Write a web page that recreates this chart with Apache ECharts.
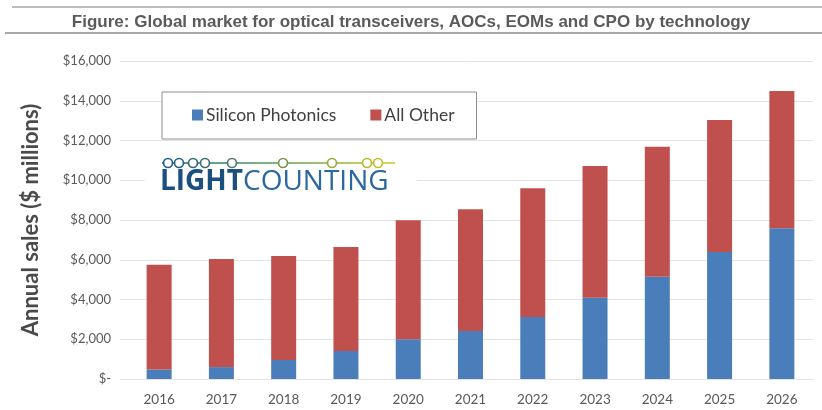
<!DOCTYPE html>
<html>
<head>
<meta charset="utf-8">
<script src="https://cdn.jsdelivr.net/npm/echarts@6/dist/echarts.min.js"></script>
<style>
  html, body { margin: 0; padding: 0; background: #fff; }
  #chart { width: 822px; height: 410px; }
</style>
</head>
<body>
<div id="chart"></div>
<script>
// values ($ millions)
const years = ["2016", "2017", "2018", "2019", "2020", "2021", "2022", "2023", "2024", "2025", "2026"];
const siliconPhotonics = [480, 600, 960, 1410, 2000, 2420, 3120, 4090, 5150, 6390, 7580];
const allOther = [5270, 5440, 5230, 5230, 5990, 6120, 6480, 6630, 6540, 6640, 6910];
const seriesNames = ["Silicon Photonics", "All Other"];

const grey = "#595959";
const gridColor = "#e3e3e3";

// logo: circle positions along the line
const logoDots = [168, 179, 193, 205, 232, 283, 332, 367, 378];
const logoY = 163;
function dotColor(x) {
  const t = (x - 162) / (395 - 162);
  const a = [26, 92, 140], b = [205, 200, 30];
  return "rgb(" + a.map((v, i) => Math.round(v + (b[i] - v) * t)).join(",") + ")";
}
const logoGradient = new echarts.graphic.LinearGradient(0, 0, 1, 0, [
  { offset: 0, color: "#1a5c8c" },
  { offset: 0.5, color: "#5a9e5a" },
  { offset: 1, color: "#cdc81e" }
]);

const chart = echarts.init(document.getElementById("chart"));

chart.setOption({
  animation: false,
  title: {
    text: "Figure: Global market for optical transceivers, AOCs, EOMs and CPO by technology",
    left: "center",
    top: 9,
    textStyle: {
      fontFamily: "Liberation Sans Narrow, Liberation Sans, Arial",
      fontSize: 17,
      fontWeight: "bold",
      color: "#5a5a5a"
    }
  },
  legend: {
    left: 162,
    top: 92,
    padding: [14, 22, 15, 30],
    itemGap: 34,
    itemWidth: 11,
    itemHeight: 11,
    icon: "rect",
    borderColor: "#8c8c8c",
    borderWidth: 1,
    backgroundColor: "#fff",
    data: seriesNames,
    textStyle: { fontFamily: "Lato, Open Sans", fontSize: 17.5, color: "#404040", padding: [0, 0, 0, -2] }
  },
  grid: { left: 128, right: 9, top: 61, bottom: 31 },
  xAxis: {
    type: "category",
    data: years,
    axisLine: { lineStyle: { color: gridColor } },
    axisTick: { show: false },
    axisLabel: { color: grey, fontFamily: "Lato, Open Sans", fontSize: 13.5, margin: 14 }
  },
  yAxis: {
    type: "value",
    name: "Annual sales ($ millions)",
    nameLocation: "middle",
    nameGap: 86,
    nameTextStyle: { fontFamily: "Lato, Open Sans", fontSize: 22, fontWeight: "bold", color: "#4a4a4a" },
    min: 0,
    max: 16000,
    interval: 2000,
    axisLine: { show: false },
    axisTick: { show: true, length: 8, lineStyle: { color: gridColor } },
    splitLine: { lineStyle: { color: gridColor } },
    axisLabel: {
      color: grey,
      fontFamily: "Lato, Open Sans",
      fontSize: 13,
      margin: 17,
      formatter: v => v === 0 ? "$-" : "$" + v.toLocaleString("en-US")
    }
  },
  series: [
    {
      name: seriesNames[0],
      type: "bar",
      stack: "total",
      barWidth: 25,
      itemStyle: { color: "#4a7ebb" },
      data: siliconPhotonics
    },
    {
      name: seriesNames[1],
      type: "bar",
      stack: "total",
      barWidth: 25,
      itemStyle: { color: "#c0504d" },
      data: allOther
    }
  ],
  graphic: [
    // title rules
    { type: "line", shape: { x1: 12, y1: 7, x2: 822, y2: 7 }, style: { stroke: "#bdbdbd", lineWidth: 2 } },
    { type: "line", shape: { x1: 5, y1: 33, x2: 822, y2: 33 }, style: { stroke: "#a8a8a8", lineWidth: 2 } },
    // logo background
    { type: "rect", shape: { x: 145, y: 150, width: 272, height: 50 }, style: { fill: "#fff" }, z: 50 },
    { type: "line", shape: { x1: 162, y1: logoY, x2: 395, y2: logoY }, style: { stroke: logoGradient, lineWidth: 1.6 }, z: 51 },
    ...logoDots.map(x => ({
      type: "circle",
      shape: { cx: x, cy: logoY, r: 4.5 },
      style: { fill: "#fff", stroke: dotColor(x), lineWidth: 1.7 },
      z: 52
    })),
    {
      type: "text",
      left: 160,
      top: 168,
      z: 52,
      style: {
        text: "{b|LIGHT}{r|COUNTING}",
        rich: {
          b: { fontFamily: "Open Sans", fontSize: 28, fontWeight: "bold", fill: "#1a4f80", color: "#1a4f80" },
          r: { fontFamily: "Open Sans", fontSize: 28, fill: "#2b67a0", color: "#2b67a0" }
        }
      }
    }
  ]
});
</script>
</body>
</html>
